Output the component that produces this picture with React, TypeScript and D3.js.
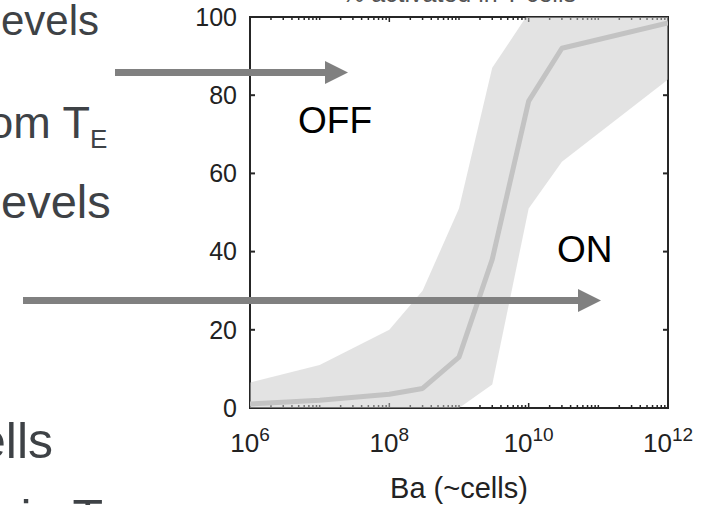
import React from "react";
import * as d3 from "d3";

// Ba dose (cells) at which activation was measured
const baCells = [1e6, 1e7, 1e8, 3e8, 1e9, 3e9, 1e10, 3e10, 1e12];
// median % activation
const medianPct = [1, 2, 3.5, 5, 13, 38, 78.5, 92, 98.5];
// spread band
const lowerPct = [0, 0, 0, 0, 0, 6, 51, 63, 84];
const upperPct = [6.5, 11, 20, 30, 51, 87, 101, 101, 101];

const xTickExps = [6, 8, 10, 12];
const yTicks = [0, 20, 40, 60, 80, 100];

const W = 702;
const H = 505;
const frame = { left: 250, right: 668, top: 17, bottom: 408 };

const slideColor = "#3e4246";
const arrowColor = "#808080";
const axisColor = "#262626";
const font = "'Liberation Sans', Arial, Helvetica, sans-serif";

function Arrow({ x0, x1, y }: { x0: number; x1: number; y: number }) {
  const headLen = 23;
  const headHalf = 11.5;
  return (
    <g fill={arrowColor}>
      <rect x={x0} y={y - 3.5} width={x1 - headLen - x0 + 1} height={7} />
      <path d={`M${x1 - headLen},${y - headHalf} L${x1},${y} L${x1 - headLen},${y + headHalf} Z`} />
    </g>
  );
}

export default function App() {
  const x = d3.scaleLog().domain([1e6, 1e12]).range([frame.left, frame.right]);
  const y = d3.scaleLinear().domain([0, 100]).range([frame.bottom, frame.top]);

  const rows = baCells.map((b, i) => ({ b, m: medianPct[i], lo: lowerPct[i], hi: upperPct[i] }));

  const band = d3
    .area<(typeof rows)[number]>()
    .x((d) => x(d.b))
    .y0((d) => y(d.lo))
    .y1((d) => y(d.hi))(rows) as string;

  const median = d3
    .line<(typeof rows)[number]>()
    .x((d) => x(d.b))
    .y((d) => y(d.m))(rows) as string;

  // log minor ticks: 2..9 within every decade plus unlabeled decades
  const minor: number[] = [];
  for (let e = 6; e < 12; e++) {
    for (let k = 1; k <= 9; k++) {
      const v = k * Math.pow(10, e);
      if (k === 1 && xTickExps.includes(e)) continue;
      minor.push(v);
    }
  }

  return (
    <svg
      width={W}
      height={H}
      viewBox={`0 0 ${W} ${H}`}
      style={{ position: "absolute", left: 0, top: 0, background: "#fff" }}
      fontFamily={font}
    >
      <defs>
        <clipPath id="plot-clip">
          <rect x={frame.left} y={frame.top} width={frame.right - frame.left} height={frame.bottom - frame.top} />
        </clipPath>
      </defs>

      {/* slide text around the chart */}
      <g fill={slideColor}>
        <text x={1} y={35} fontSize={42}>evels</text>
        <text x={90} y={138} fontSize={45} textAnchor="end">om T</text>
        <text x={90} y={148} fontSize={26}>E</text>
        <text x={1} y={218} fontSize={47}>evels</text>
        <text x={53} y={458} fontSize={50} textAnchor="end">ells</text>
        <text x={103} y={535} fontSize={50} textAnchor="end">in T</text>
      </g>

      {/* plot title */}
      <text x={(frame.left + frame.right) / 2} y={1.5} fontSize={25} textAnchor="middle" fill="#555">
        % activated in T cells
      </text>

      {/* frame */}
      <rect
        x={frame.left}
        y={frame.top}
        width={frame.right - frame.left}
        height={frame.bottom - frame.top}
        fill="none"
        stroke={axisColor}
        strokeWidth={2}
      />

      {/* y ticks, inward on both sides */}
      <g stroke={axisColor} strokeWidth={2}>
        {yTicks.map((t) => (
          <g key={t}>
            <line x1={frame.left} x2={frame.left + 5} y1={y(t)} y2={y(t)} />
            <line x1={frame.right} x2={frame.right - 5} y1={y(t)} y2={y(t)} />
          </g>
        ))}
      </g>

      {/* x ticks, inward on top and bottom */}
      <g stroke={axisColor} strokeWidth={1.5}>
        {minor.map((v) => (
          <g key={v}>
            <line x1={x(v)} x2={x(v)} y1={frame.bottom} y2={frame.bottom - 3} />
            <line x1={x(v)} x2={x(v)} y1={frame.top} y2={frame.top + 3} />
          </g>
        ))}
        {xTickExps.map((e) => (
          <g key={e}>
            <line x1={x(Math.pow(10, e))} x2={x(Math.pow(10, e))} y1={frame.bottom} y2={frame.bottom - 5} />
            <line x1={x(Math.pow(10, e))} x2={x(Math.pow(10, e))} y1={frame.top} y2={frame.top + 5} />
          </g>
        ))}
      </g>

      {/* spread band and median curve */}
      <g clipPath="url(#plot-clip)">
        <path d={band} fill="#c8c8c8" fillOpacity={0.5} />
        <path d={median} fill="none" stroke="#c3c3c3" strokeWidth={5} strokeLinejoin="round" />
      </g>

      {/* tick labels */}
      <g fill="#222" fontSize={25}>
        {yTicks.map((t) => (
          <text key={t} x={237} y={y(t)} dy="0.35em" textAnchor="end">
            {t}
          </text>
        ))}
        {xTickExps.map((e) => (
          <text key={e} x={x(Math.pow(10, e))} y={452} textAnchor="middle" fontSize={26}>
            <tspan>10</tspan>
            <tspan fontSize={19} dy={-11}>{e}</tspan>
          </text>
        ))}
      </g>

      <text x={(frame.left + frame.right) / 2} y={498} fontSize={29} textAnchor="middle" fill="#222">
        Ba (~cells)
      </text>

      {/* state labels */}
      <text x={298} y={133} fontSize={37} fill="#000">OFF</text>
      <text x={557} y={262} fontSize={37} fill="#000">ON</text>

      {/* arrows */}
      <Arrow x0={115} x1={348} y={72.5} />
      <Arrow x0={23} x1={601} y={300.5} />
    </svg>
  );
}
